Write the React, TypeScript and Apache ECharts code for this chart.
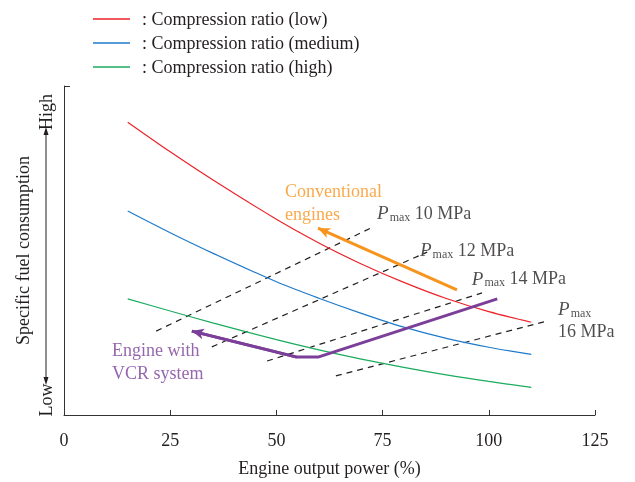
import React, { useEffect, useRef } from "react";
import * as echarts from "echarts";

const powerPct = [15, 25, 35, 50, 60, 70, 80, 90, 100, 110];
const sfcLow = [89, 80, 71.5, 59.5, 52.3, 45.9, 40.3, 35.4, 31.4, 28.2];
const sfcMedium = [62, 55.4, 49.2, 40.5, 35.5, 30.9, 26.7, 23.3, 20.6, 18.4];
const sfcHigh = [35.3, 31.6, 28, 22.9, 19.8, 17, 14.5, 12.2, 10.2, 8.4];

const pmaxLines: { name: string; pts: number[][] }[] = [
  { name: "10", pts: [[21.7, 25.5], [72.7, 57.1]] },
  { name: "12", pts: [[34.8, 20.7], [85.5, 49.5]] },
  { name: "14", pts: [[47.8, 16.4], [98.4, 37.1]] },
  { name: "16", pts: [[64.0, 11.9], [113.9, 28.6]] },
];

const conventionalArrow = [[92.5, 38], [59.8, 56.8]];
const vcrPath = [[102, 35.3], [59.8, 17.6], [54.8, 17.6], [30.1, 25.5]];

const xTicks = [0, 25, 50, 75, 100, 125];

const FONT = "'Liberation Serif', 'Times New Roman', serif";
const INK = "#231f20";
const RED = "#ec2229";
const BLUE = "#1f7acb";
const GREEN = "#1aab5c";
const ORANGE = "#f7941d";
const PURPLE = "#7b3f99";
const FS = 18;

export default function App() {
  const ref = useRef<HTMLDivElement>(null);
  useEffect(() => {
    if (!ref.current) return;
    const chart = echarts.init(ref.current, undefined, { renderer: "svg" });
    const curve = (name: string, data: number[], color: string) => ({
      name,
      type: "line",
      data: powerPct.map((x, i) => [x, data[i]]),
      smooth: 0.3,
      symbol: "none",
      showSymbol: false,
      lineStyle: { color, width: 1.2 },
      itemStyle: { color },
      z: 3,
    });
    const pmaxRich = {
      p: { fontFamily: FONT, fontStyle: "italic", fontSize: 19, color: INK },
      s: { fontFamily: FONT, fontSize: 12, color: INK, padding: [8, 0, 0, 1] },
      t: { fontFamily: FONT, fontSize: FS, color: INK },
    };
    const labels = [
      { value: [52.0, 64.7], label: { formatter: "Conventional\nengines", color: ORANGE, fontSize: FS, lineHeight: 23, fontFamily: FONT } },
      { value: [73.7, 61.4], label: { formatter: "{p|P}{s|max}{t| 10 MPa}", rich: pmaxRich } },
      { value: [83.8, 50.2], label: { formatter: "{p|P}{s|max}{t| 12 MPa}", rich: pmaxRich } },
      { value: [96.0, 41.6], label: { formatter: "{p|P}{s|max}{t| 14 MPa}", rich: pmaxRich } },
      { value: [116.3, 28.9], label: { formatter: "{p|P}{s|max}\n{t|16 MPa}", rich: { ...pmaxRich, p: { ...pmaxRich.p, lineHeight: 22 }, t: { ...pmaxRich.t, lineHeight: 22 } } } },
      { value: [11.3, 16.4], label: { formatter: "Engine with\nVCR system", color: PURPLE, fontSize: FS, lineHeight: 23, fontFamily: FONT } },
    ];
    const legendNames = [": Compression ratio (low)", ": Compression ratio (medium)", ": Compression ratio (high)"];
    const option: any = {
      animation: false,
      textStyle: { fontFamily: FONT },
      grid: { left: 64, right: 40, top: 86, bottom: 67 },
      legend: {
        orient: "vertical",
        left: 93,
        top: 10,
        padding: 0,
        itemWidth: 37,
        itemHeight: 1.3,
        itemGap: 6,
        icon: "rect",
        data: legendNames,
        textStyle: { fontFamily: FONT, fontSize: FS, color: INK, padding: [0, 0, 0, 7] },
      },
      xAxis: {
        type: "value",
        min: 0,
        max: 125,
        interval: 25,
        name: "Engine output power (%)",
        nameLocation: "middle",
        nameGap: 44,
        nameTextStyle: { fontFamily: FONT, fontSize: FS, color: INK },
        axisLine: { lineStyle: { color: "#333", width: 1 } },
        axisTick: { inside: true, length: 5, lineStyle: { color: "#333" } },
        axisLabel: { margin: 16, fontFamily: FONT, fontSize: FS, color: INK, formatter: (v: number) => (xTicks.includes(v) ? String(v) : "") },
        splitLine: { show: false },
      },
      yAxis: {
        type: "value",
        min: 0,
        max: 100,
        interval: 100,
        name: "Specific fuel consumption",
        nameLocation: "middle",
        nameRotate: 90,
        nameGap: 32,
        nameTextStyle: { fontFamily: FONT, fontSize: FS, color: INK },
        axisLine: { show: true, lineStyle: { color: "#333", width: 1 } },
        axisTick: { show: true, inside: true, length: 6, lineStyle: { color: "#333" } },
        axisLabel: { show: false },
        splitLine: { show: false },
      },
      graphic: [
        { type: "text", x: 46, y: 112, rotation: Math.PI / 2, style: { text: "High", font: `${FS}px ${FONT}`, fill: INK, align: "center", verticalAlign: "middle" } },
        { type: "text", x: 46, y: 400, rotation: Math.PI / 2, style: { text: "Low", font: `${FS}px ${FONT}`, fill: INK, align: "center", verticalAlign: "middle" } },
        { type: "line", shape: { x1: 46, y1: 132, x2: 46, y2: 380 }, style: { stroke: INK, lineWidth: 1 } },
        { type: "polygon", shape: { points: [[46, 127], [43.5, 135], [48.5, 135]] }, style: { fill: INK } },
        { type: "polygon", shape: { points: [[46, 385], [43.5, 377], [48.5, 377]] }, style: { fill: INK } },
      ],
      series: [
        curve(legendNames[0], sfcLow, RED),
        curve(legendNames[1], sfcMedium, BLUE),
        curve(legendNames[2], sfcHigh, GREEN),
        ...pmaxLines.map((l) => ({
          name: "Pmax " + l.name,
          type: "line",
          data: l.pts,
          symbol: "none",
          showSymbol: false,
          lineStyle: { color: INK, width: 1.2, type: [6, 5] },
          z: 2,
        })),
        {
          name: "vcr",
          type: "line",
          data: vcrPath,
          symbol: "none",
          showSymbol: false,
          lineStyle: { color: PURPLE, width: 3 },
          z: 4,
          markLine: {
            silent: true,
            symbol: ["none", "arrow"],
            symbolSize: [8, 12],
            label: { show: false },
            lineStyle: { color: PURPLE, width: 3, type: "solid" },
            data: [[{ coord: vcrPath[2] }, { coord: vcrPath[3] }]],
          },
        },
        {
          name: "conventional",
          type: "line",
          data: [],
          symbol: "none",
          z: 4,
          markLine: {
            silent: true,
            symbol: ["none", "arrow"],
            symbolSize: [8, 12],
            label: { show: false },
            lineStyle: { color: ORANGE, width: 3, type: "solid" },
            data: [[{ coord: conventionalArrow[0] }, { coord: conventionalArrow[1] }]],
          },
        },
        {
          name: "labels",
          type: "scatter",
          symbolSize: 0,
          data: labels,
          label: { show: true, position: "right", distance: 0, align: "left", verticalAlign: "middle", fontFamily: FONT },
          z: 5,
        },
      ],
    };
    chart.setOption(option);
    return () => chart.dispose();
  }, []);
  return <div ref={ref} style={{ position: "fixed", left: 0, top: 0, width: 635, height: 482 }} />;
}
